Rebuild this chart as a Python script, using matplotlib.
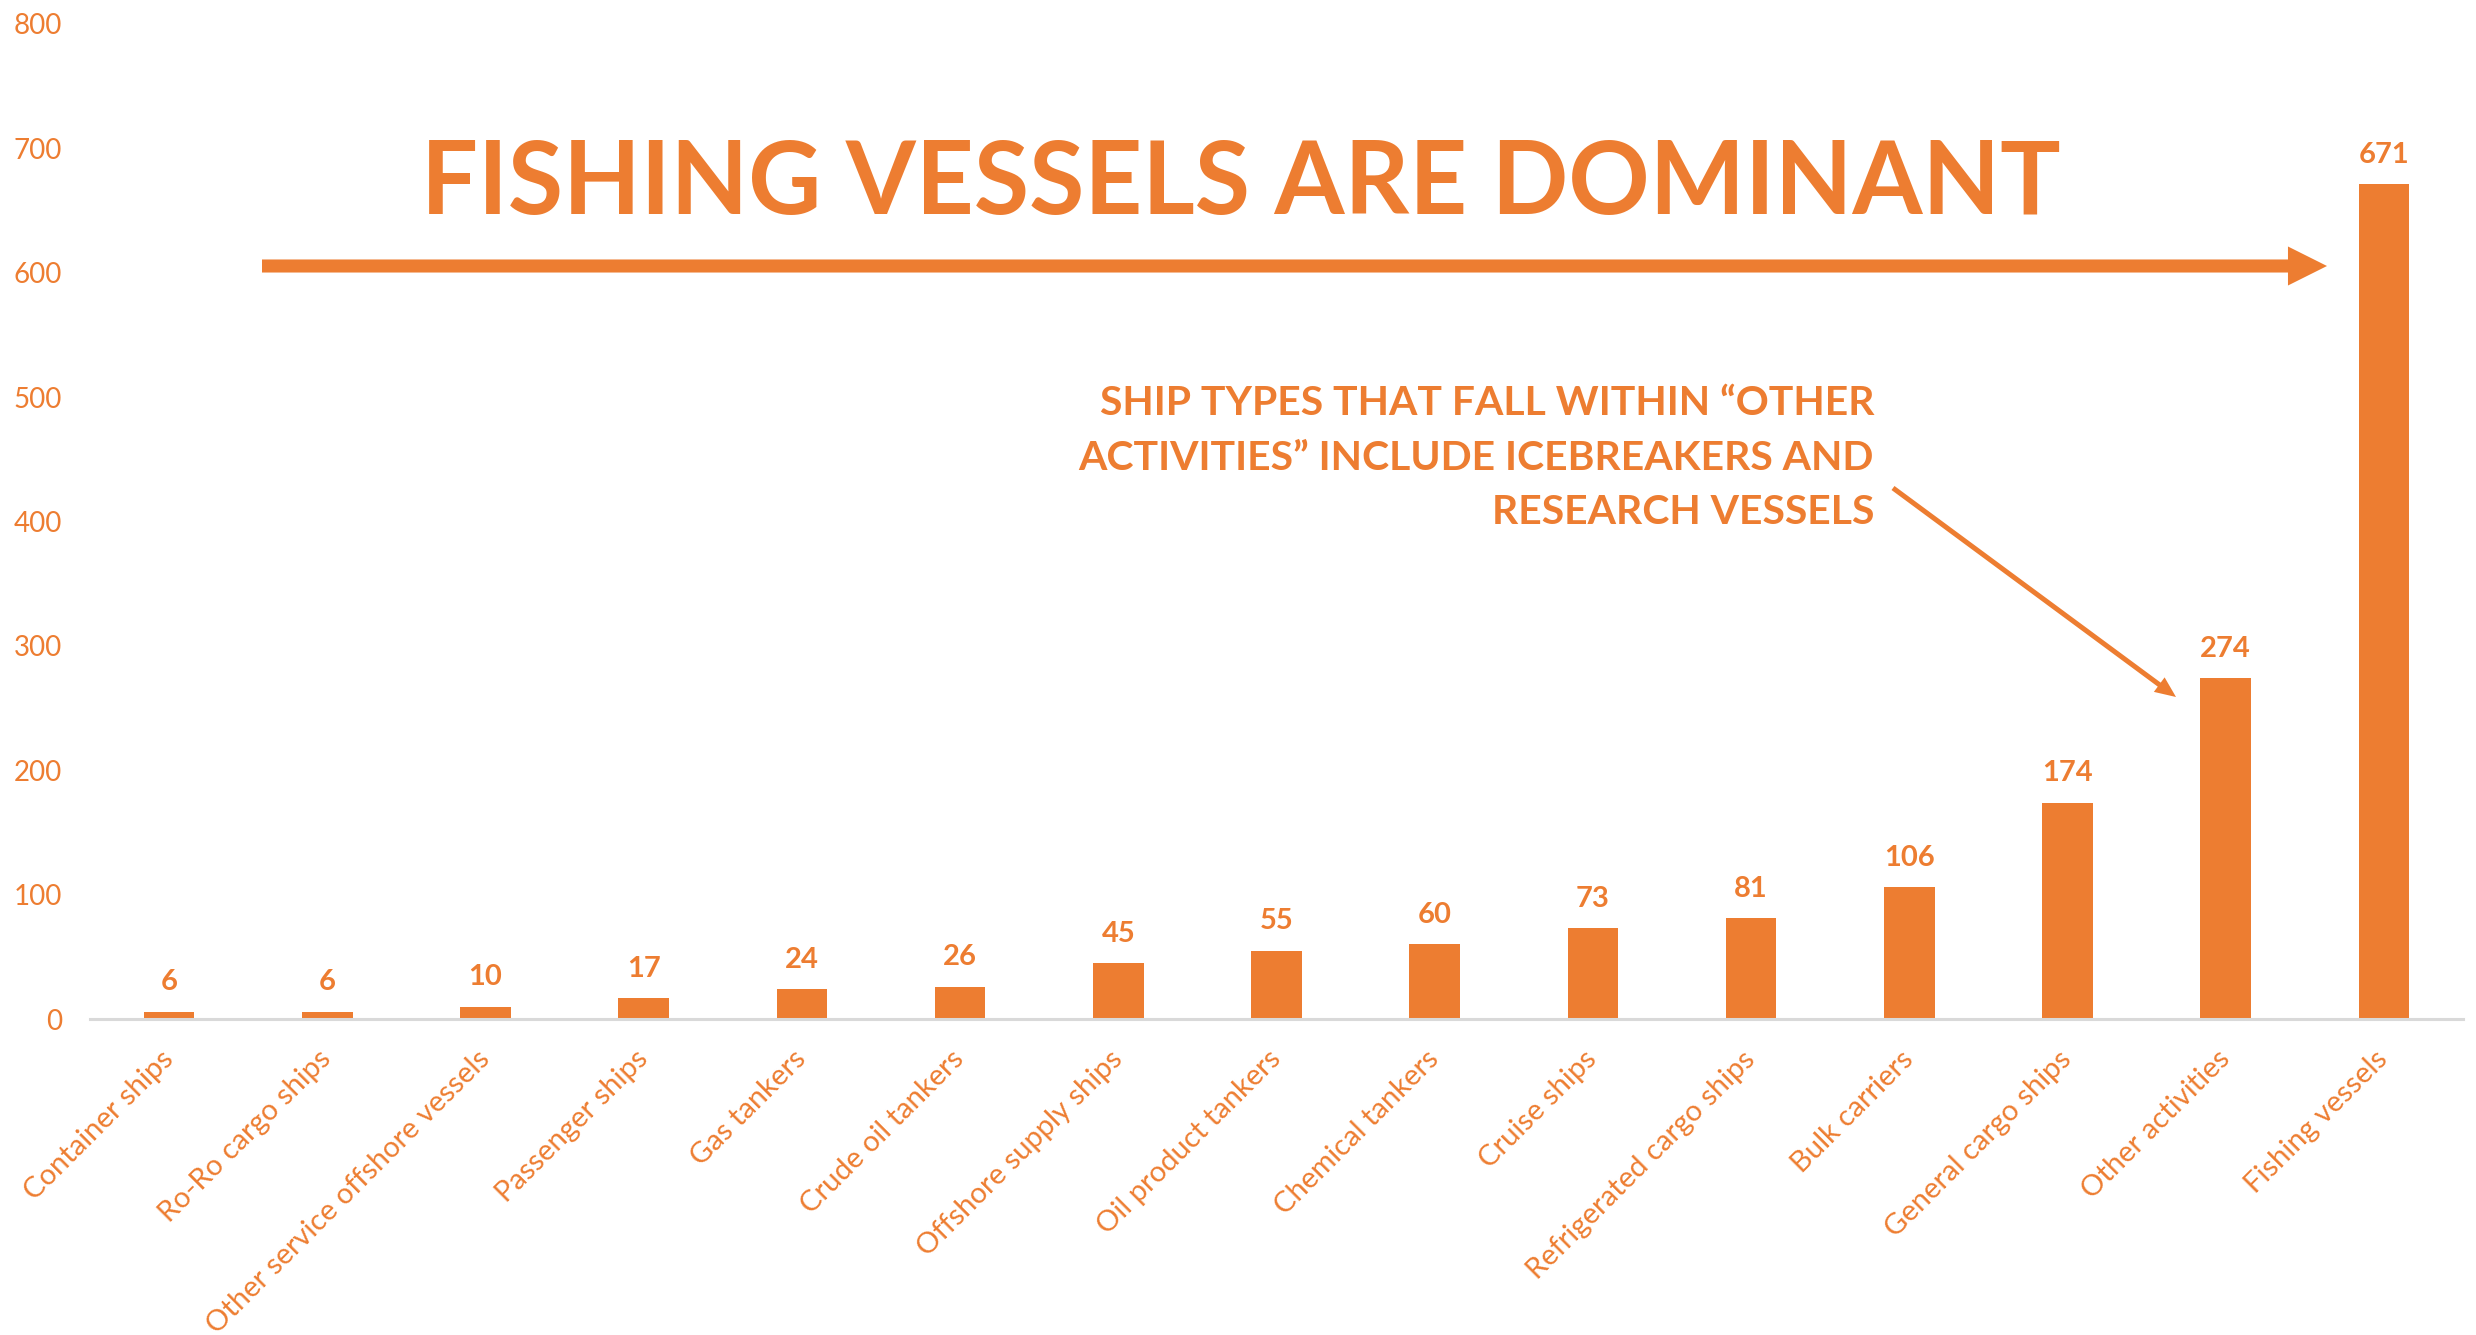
import matplotlib
matplotlib.use("Agg")
import matplotlib.pyplot as plt
from matplotlib.patches import FancyArrowPatch

categories = ["Container ships", "Ro-Ro cargo ships", "Other service offshore vessels",
              "Passenger ships", "Gas tankers", "Crude oil tankers", "Offshore supply ships",
              "Oil product tankers", "Chemical tankers", "Cruise ships",
              "Refrigerated cargo ships", "Bulk carriers", "General cargo ships",
              "Other activities", "Fishing vessels"]
values = [6, 6, 10, 17, 24, 26, 45, 55, 60, 73, 81, 106, 174, 274, 671]
yticks = [0, 100, 200, 300, 400, 500, 600, 700, 800]

title_text = "FISHING VESSELS ARE DOMINANT"
note_text = "SHIP TYPES THAT FALL WITHIN \u201cOTHER\nACTIVITIES\u201d INCLUDE ICEBREAKERS AND\nRESEARCH VESSELS"

ORANGE = "#ED7D31"
plt.rcParams['font.family'] = ['Lato', 'DejaVu Sans']

W, H = 2476, 1335
fig = plt.figure(figsize=(W / 100, H / 100), dpi=100)
ax = fig.add_axes([90 / W, 1 - 1019 / H, (2463 - 90) / W, (1019 - 24) / H])

x = list(range(len(categories)))
bars = ax.bar(x, values, width=0.32, color=ORANGE, zorder=3)
ax.set_xlim(-0.5, len(categories) - 0.5)
ax.set_ylim(0, 800)
ax.set_yticks(yticks)
ax.set_yticklabels([str(t) for t in yticks], color=ORANGE, fontsize=20)
ax.tick_params(axis='y', length=0, pad=20)
ax.set_xticks(x)
ax.set_xticklabels(categories, rotation=45, ha='right', va='center',
                   rotation_mode='anchor', color=ORANGE, fontsize=21)
ax.tick_params(axis='x', length=0, pad=26)

for s in ['top', 'right', 'left']:
    ax.spines[s].set_visible(False)
ax.spines['bottom'].set_color('#D9D9D9')
ax.spines['bottom'].set_linewidth(2.2)
ax.spines['bottom'].set_zorder(4)

for xi, v in zip(x, values):
    ax.annotate(str(v), (xi, v), xytext=(0, 21), textcoords='offset points',
                ha='center', va='center', color=ORANGE, fontsize=21, fontweight='bold')

# Title
fig.text(1241 / W, 1 - 185 / H, title_text, ha='center', va='center',
         color=ORANGE, fontsize=72.5, fontweight='bold')

# Big horizontal arrow (filled shape)
big = FancyArrowPatch((262 / W, 1 - 266 / H), (2327 / W, 1 - 266 / H),
                      transform=fig.transFigure,
                      arrowstyle='simple,head_length=28.1,head_width=28.1,tail_width=9.4',
                      mutation_scale=1, linewidth=0, color=ORANGE,
                      shrinkA=0, shrinkB=0)
fig.patches.append(big)

# Note text
fig.text(1874 / W, 1 - 458 / H, note_text, ha='right', va='center',
         color=ORANGE, fontsize=29.4, fontweight='bold', linespacing=1.58)

small = FancyArrowPatch((1893 / W, 1 - 488 / H), (2176 / W, 1 - 697 / H),
                        transform=fig.transFigure,
                        arrowstyle='simple,head_length=15,head_width=13,tail_width=3.6',
                        mutation_scale=1, linewidth=0, color=ORANGE,
                        shrinkA=0, shrinkB=0)
fig.patches.append(small)

fig.savefig("out.png", dpi=100, facecolor='white')
